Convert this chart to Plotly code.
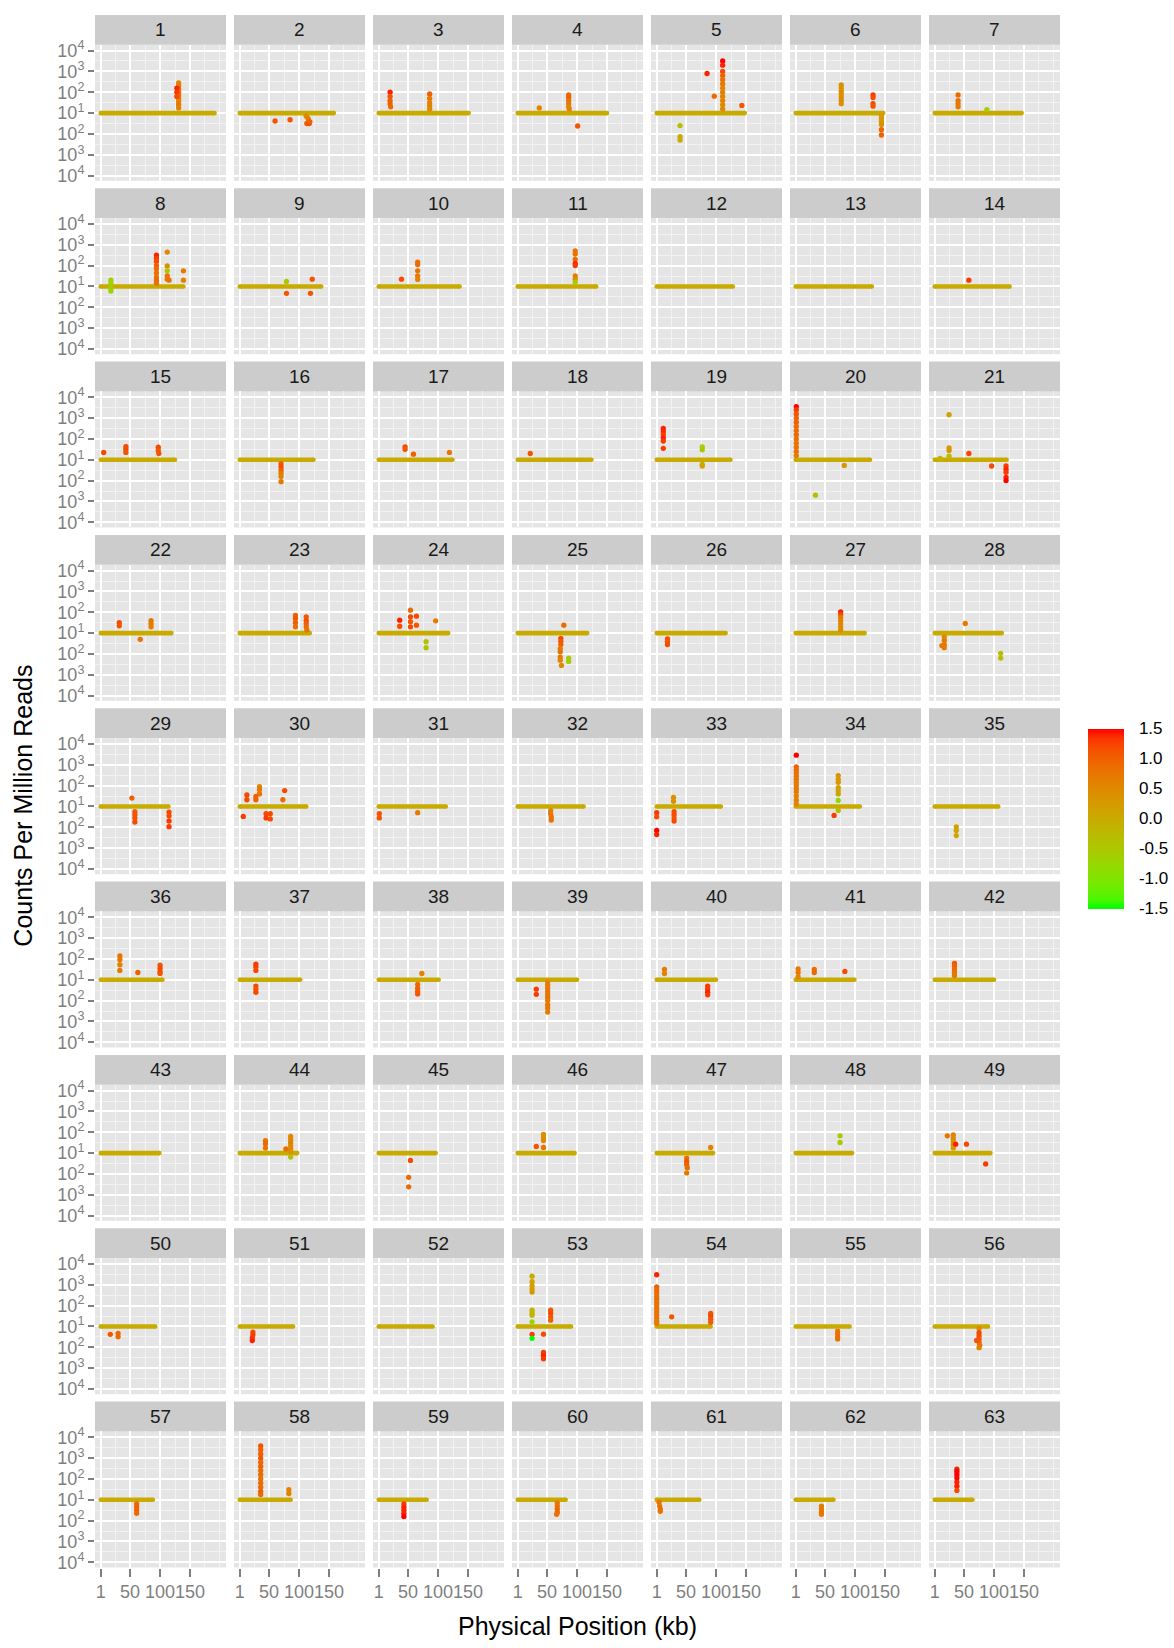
import plotly.graph_objects as go

# ---------------- data ----------------
chrom_ids = list(range(1, 64))
chrom_len_kb = [191, 158, 151, 150, 148, 147, 146,
                139, 137, 136, 132, 128, 128, 126,
                125, 124, 124, 124, 124, 125, 121,
                119, 118, 117, 117, 116, 116, 113,
                114, 112, 113, 111, 108, 108, 107,
                104, 102, 101, 100, 100, 99, 100,
                99, 97, 96, 96, 95, 95, 94,
                92, 90, 91, 90, 91, 91, 90,
                88, 86, 81, 81, 72, 64, 64]

# per-chromosome point positions (kb)
point_pos = [
    [131]*9 + [128]*3,                                   # 1
    [60, 85, 112, 115, 116, 113, 117, 118],              # 2
    [20, 20, 20, 20, 21, 86, 86, 86, 86, 86],            # 3
    [37, 86, 86, 86, 86, 86, 87, 101],                   # 4
    [85, 97] + [111]*12 + [143, 40, 40, 40],             # 5
    [77]*7 + [130]*4 + [144]*6,                          # 6
    [40, 40, 40, 40, 88],                                # 7
    [18]*4 + [94]*9 + [112]*5 + [115, 139, 139],         # 8
    [79, 79, 122, 119],                                  # 9
    [39, 66, 66, 66, 66, 66],                            # 10
    [97]*8,                                              # 11
    [],                                                  # 12
    [],                                                  # 13
    [58],                                                # 14
    [6, 43, 43, 43, 97, 97, 98],                         # 15
    [70]*6,                                              # 16
    [45, 45, 59, 119],                                   # 17
    [22],                                                # 18
    [12]*6 + [77]*4,                                     # 19
    [2]*13 + [82, 34],                                   # 20
    [25, 25, 25, 25, 10, 58, 96, 120, 120, 120, 120, 120],  # 21
    [32, 32, 85, 85, 85, 67],                            # 22
    [94, 94, 94, 94, 112, 112, 112, 112, 113],           # 23
    [36, 36, 54, 54, 54, 54, 64, 64, 96, 80, 80],        # 24
    [78, 73, 73, 73, 72, 72, 72, 72, 74, 86, 86],        # 25
    [19, 19, 19],                                        # 26
    [76]*7,                                              # 27
    [52, 17, 17, 17, 17, 13, 111, 111],                  # 28
    [53, 58, 58, 58, 58, 115, 115, 115, 115],            # 29
    [13, 13, 28, 28, 34, 34, 34, 76, 73, 7, 45, 45, 52, 52],  # 30
    [2, 2, 66],                                          # 31
    [56, 56, 57, 57],                                    # 32
    [29, 29, 30, 30, 30, 30, 1, 1, 1, 1],                # 33
    [2]*13 + [72]*8 + [65],                              # 34
    [37, 37, 37],                                        # 35
    [33, 33, 33, 33, 63, 100, 100, 100, 100],            # 36
    [28]*6,                                              # 37
    [73, 66, 66, 66, 66],                                # 38
    [51]*10 + [32, 32],                                  # 39
    [14, 14, 86, 86, 86, 86],                            # 40
    [5, 5, 5, 32, 32, 83],                               # 41
    [34]*5,                                              # 42
    [],                                                  # 43
    [44, 44, 44, 86, 86, 86, 86, 86, 86, 78, 86],        # 44
    [54, 51, 51],                                        # 45
    [44, 44, 44, 44, 32],                                # 46
    [91, 51, 51, 51, 52, 51],                            # 47
    [75, 75],                                            # 48
    [22, 32, 32, 32, 32, 32, 36, 54, 86],                # 49
    [17, 30, 30],                                        # 50
    [23, 23, 22, 22],                                    # 51
    [],                                                  # 52
    [25]*11 + [56]*4 + [44]*4,                           # 53
    [1]*14 + [26] + [91]*4,                              # 54
    [71]*4,                                              # 55
    [75, 75, 75, 75, 75, 76, 75, 71],                    # 56
    [61]*4,                                              # 57
    [36]*13 + [83, 83],                                  # 58
    [43]*5,                                              # 59
    [67, 67, 67, 67, 66],                                # 60
    [5, 6, 7, 7],                                        # 61
    [44]*4,                                              # 62
    [38]*7,                                              # 63
]

# signed log10 counts (0 = baseline)
point_logcpm = [
    [1.45, 1.3, 1.15, 1.0, 0.85, 0.7, 0.55, 0.4, 0.25, 1.2, 1.0, 0.8],
    [-0.38, -0.32, -0.15, -0.25, -0.35, -0.5, -0.5, -0.42],
    [1.0, 0.8, 0.6, 0.45, 0.3, 0.92, 0.7, 0.5, 0.35, 0.2],
    [0.25, 0.87, 0.75, 0.6, 0.45, 0.3, 0.2, -0.62],
    [1.9, 0.81, 2.5, 2.3, 2.0, 1.8, 1.6, 1.4, 1.2, 1.0, 0.8, 0.6, 0.4, 0.2, 0.37, -0.6, -1.13, -1.29],
    [1.35, 1.2, 1.05, 0.9, 0.75, 0.6, 0.45, 0.87, 0.75, 0.45, 0.33, -0.1, -0.25, -0.4, -0.55, -0.8, -1.05],
    [0.87, 0.6, 0.45, 0.3, 0.17],
    [0.3, 0.15, -0.1, -0.22, 1.5, 1.35, 1.2, 1.0, 0.85, 0.65, 0.45, 0.3, 0.15, 1.65, 0.98, 0.75, 0.5, 0.35, 0.3, 0.75, 0.3],
    [0.24, -0.33, 0.35, -0.33],
    [0.35, 1.17, 1.05, 0.75, 0.5, 0.33],
    [1.7, 1.55, 1.3, 1.1, 1.0, 0.5, 0.35, 0.2],
    [],
    [],
    [0.3],
    [0.35, 0.63, 0.5, 0.35, 0.6, 0.45, 0.3],
    [-0.2, -0.35, -0.5, -0.65, -0.8, -1.05],
    [0.62, 0.5, 0.27, 0.35],
    [0.3],
    [1.5, 1.35, 1.2, 1.05, 0.9, 0.55, 0.62, 0.48, -0.22, -0.3],
    [2.55, 2.4, 2.2, 2.0, 1.8, 1.6, 1.4, 1.2, 1.0, 0.8, 0.6, 0.4, 0.2, -0.27, -1.7],
    [2.16, 0.57, 0.44, 0.17, 0.06, 0.3, -0.3, -0.3, -0.45, -0.6, -0.85, -1.0],
    [0.5, 0.35, 0.6, 0.45, 0.3, -0.3],
    [0.85, 0.7, 0.5, 0.3, 0.78, 0.6, 0.45, 0.3, 0.15],
    [0.62, 0.33, 1.1, 0.78, 0.55, 0.3, 0.81, 0.38, 0.59, -0.41, -0.7],
    [0.38, -0.25, -0.4, -0.55, -0.75, -0.9, -1.15, -1.3, -1.55, -1.2, -1.36],
    [-0.28, -0.4, -0.55],
    [1.02, 0.88, 0.75, 0.6, 0.45, 0.3, 0.15],
    [0.46, -0.18, -0.35, -0.55, -0.7, -0.6, -0.97, -1.2],
    [0.4, -0.25, -0.4, -0.55, -0.75, -0.27, -0.45, -0.7, -0.97],
    [0.55, 0.32, 0.48, 0.32, 0.95, 0.8, 0.6, 0.76, 0.32, -0.48, -0.35, -0.55, -0.35, -0.6],
    [-0.35, -0.55, -0.3],
    [-0.2, -0.35, -0.5, -0.65],
    [0.43, 0.25, -0.25, -0.4, -0.55, -0.7, -0.3, -0.5, -1.15, -1.35],
    [2.46, 1.9, 1.75, 1.6, 1.45, 1.3, 1.15, 1.0, 0.85, 0.7, 0.5, 0.3, 0.12, 1.48, 1.3, 1.16, 0.9, 0.75, 0.6, 0.29, -0.19, -0.43],
    [-0.98, -1.15, -1.4],
    [1.14, 0.97, 0.72, 0.45, 0.35, 0.7, 0.55, 0.4, 0.3],
    [0.75, 0.62, 0.45, -0.3, -0.45, -0.6],
    [0.3, -0.22, -0.4, -0.55, -0.68],
    [-0.1, -0.25, -0.4, -0.55, -0.7, -0.85, -1.0, -1.2, -1.35, -1.55, -0.45, -0.7],
    [0.5, 0.3, -0.3, -0.45, -0.6, -0.72],
    [0.52, 0.35, 0.15, 0.5, 0.35, 0.4],
    [0.78, 0.65, 0.5, 0.35, 0.2],
    [],
    [0.6, 0.45, 0.25, 0.8, 0.65, 0.5, 0.35, 0.2, 0.08, 0.2, -0.19],
    [-0.35, -1.16, -1.62],
    [0.9, 0.75, 0.6, 0.27, 0.32],
    [0.27, -0.24, -0.4, -0.55, -0.7, -0.95],
    [0.83, 0.51],
    [0.83, 0.87, 0.7, 0.55, 0.4, 0.25, 0.43, 0.43, -0.52],
    [-0.38, -0.33, -0.49],
    [-0.27, -0.4, -0.55, -0.68],
    [],
    [2.41, 2.15, 1.95, 1.8, 1.65, 0.78, 0.65, 0.54, 0.22, -0.38, -0.57, 0.78, 0.62, 0.45, 0.3, -0.37, -1.25, -1.4, -1.55],
    [2.48, 1.9, 1.75, 1.6, 1.45, 1.3, 1.15, 1.0, 0.85, 0.7, 0.55, 0.4, 0.25, 0.14, 0.46, 0.62, 0.5, 0.35, 0.2],
    [-0.22, -0.35, -0.5, -0.6],
    [-0.1, -0.3, -0.45, -0.6, -0.75, -0.9, -1.02, -0.67],
    [-0.2, -0.35, -0.5, -0.65],
    [2.58, 2.4, 2.2, 2.0, 1.8, 1.6, 1.4, 1.2, 1.0, 0.8, 0.6, 0.4, 0.25, 0.48, 0.3],
    [-0.2, -0.35, -0.5, -0.65, -0.8],
    [-0.15, -0.3, -0.45, -0.6, -0.7],
    [-0.12, -0.3, -0.45, -0.55],
    [-0.3, -0.45, -0.6, -0.7],
    [1.47, 1.35, 1.2, 1.05, 0.85, 0.65, 0.45],
]

# colour value (log fold change)
point_fc = [
    [0.6, 0.7, 0.8, 0.7, 0.8, 0.7, 0.6, 0.7, 0.6, 1.4, 1.3, 1.2],
    [1.1, 1.1, 0.5, 0.6, 0.7, 1.0, 1.2, 1.0],
    [1.4, 1.1, 1.0, 1.0, 0.9, 1.0, 0.7, 0.6, 0.6, 0.5],
    [0.6, 0.9, 1.0, 0.8, 0.7, 0.6, 0.6, 1.1],
    [1.4, 0.9, 1.5, 1.4, 1.2, 1.0, 0.8, 0.7, 0.6, 0.6, 0.6, 0.6, 0.5, 0.5, 1.1, -0.3, 0.0, 0.0],
    [0.4, 0.4, 0.45, 0.4, 0.4, 0.45, 0.4, 1.3, 1.2, 1.2, 1.1, 0.3, 0.3, 0.3, 0.4, 0.9, 1.0],
    [0.9, 0.8, 0.7, 0.7, -0.6],
    [-0.7, -0.6, -0.6, -0.7, 1.4, 1.3, 1.2, 1.0, 0.9, 0.8, 0.8, 0.9, 0.8, 0.5, 0.4, -0.4, 0.8, 0.7, 0.8, 0.7, 0.6],
    [-0.5, 1.1, 1.1, 1.1],
    [1.2, 0.9, 0.9, 0.8, 0.7, 0.6],
    [0.8, 0.8, 0.9, 1.4, 1.3, 0.6, 0.5, -0.5],
    [],
    [],
    [1.3],
    [1.2, 1.2, 1.2, 1.1, 1.2, 1.1, 1.1],
    [1.1, 1.2, 1.0, 0.7, 0.6, 0.7],
    [1.2, 1.1, 1.0, 0.7],
    [1.1],
    [1.4, 1.4, 1.3, 1.4, 1.3, 1.3, -0.6, -0.5, 0.0, 0.1],
    [1.5, 1.3, 1.1, 1.0, 1.0, 0.9, 0.9, 0.9, 0.8, 0.8, 0.8, 0.8, 0.7, 0.3, -0.3],
    [0.1, 0.3, 0.3, -0.3, -0.2, 1.2, 1.2, 1.3, 1.4, 1.3, 1.4, 1.5],
    [1.2, 1.1, 0.7, 0.7, 0.6, 0.8],
    [1.0, 1.1, 1.0, 0.9, 1.1, 1.2, 1.0, 0.9, 0.8],
    [1.4, 1.2, 0.9, 1.2, 1.1, 1.2, 1.2, 1.1, 0.7, -0.4, -0.4],
    [0.9, 1.2, 1.1, 1.0, 0.7, 0.8, 0.7, 0.6, 0.5, -0.6, -0.6],
    [1.2, 1.1, 1.2],
    [1.4, 1.2, 0.7, 0.6, 0.5, 0.5, 0.5],
    [0.7, 0.5, 0.7, 0.8, 0.7, 0.7, -0.3, -0.3],
    [1.0, 1.0, 1.1, 1.1, 1.2, 1.2, 1.2, 1.3, 1.3],
    [1.2, 1.2, 1.0, 1.0, 0.6, 0.7, 0.8, 1.2, 0.9, 1.3, 1.2, 1.3, 1.2, 1.2],
    [1.1, 1.1, 0.7],
    [0.6, 0.7, 0.8, 0.8],
    [0.4, 0.4, 1.2, 1.2, 1.1, 1.2, 1.3, 1.2, 1.5, 1.4],
    [1.5, 1.0, 0.9, 0.8, 0.8, 0.8, 0.7, 0.7, 0.7, 0.7, 0.6, 0.6, 0.6, 0.4, 0.3, 0.3, 0.2, 0.1, 0.1, -0.8, -0.3, 1.3],
    [0.2, 0.1, 0.1],
    [0.8, 0.7, 0.6, 0.7, 1.0, 1.1, 1.2, 1.2, 1.1],
    [1.3, 1.3, 1.2, 1.2, 1.1, 1.2],
    [0.6, 0.9, 1.0, 1.0, 1.1],
    [0.6, 0.7, 0.7, 0.8, 0.7, 0.8, 0.7, 0.8, 0.7, 0.7, 1.3, 1.3],
    [0.7, 0.6, 1.3, 1.3, 1.4, 1.3],
    [0.7, 0.7, 0.6, 0.9, 0.9, 1.2],
    [1.1, 1.0, 0.9, 0.8, 0.7],
    [],
    [0.8, 0.9, 0.8, 0.5, 0.5, 0.6, 0.5, 0.5, 0.4, 0.8, -0.4],
    [1.2, 0.9, 0.9],
    [0.4, 0.4, 0.5, 0.8, 1.1],
    [0.6, 0.9, 1.1, 1.0, 0.9, 0.7],
    [-0.5, -0.5],
    [0.8, 0.6, 0.5, 0.4, 0.5, 0.3, 1.4, 1.2, 1.3],
    [1.1, 0.9, 0.9],
    [1.2, 1.3, 1.3, 1.4],
    [],
    [0.0, 0.1, 0.2, 0.2, 0.3, -0.1, -0.2, -0.1, -0.7, 1.3, -1.5, 1.1, 1.2, 1.1, 1.0, 1.2, 1.3, 1.4, 1.3],
    [1.4, 1.0, 0.9, 0.9, 0.8, 0.9, 0.8, 0.8, 0.8, 0.8, 0.8, 0.8, 0.7, 0.7, 1.1, 1.1, 1.2, 1.1, 1.0],
    [0.7, 0.8, 0.9, 0.8],
    [0.5, 1.2, 1.2, 1.1, 1.0, 0.8, 0.6, 1.1],
    [0.9, 1.0, 1.0, 0.9],
    [1.1, 1.0, 1.0, 1.1, 0.9, 1.0, 0.9, 0.9, 0.8, 0.9, 0.9, 1.0, 0.9, 0.6, 0.6],
    [1.3, 1.4, 1.4, 1.4, 1.5],
    [0.7, 0.8, 0.9, 0.9, 0.8],
    [0.8, 0.8, 0.9, 0.8],
    [0.7, 0.7, 0.8, 0.7],
    [1.4, 1.5, 1.5, 1.5, 1.4, 1.4, 1.2],
]

x_tick_vals = [1, 50, 100, 150]
x_tick_text = ["1", "50", "100", "150"]
y_tick_vals = [3, 2, 1, 0, -1, -2, -3]
y_tick_text = ["10<sup>4</sup>", "10<sup>3</sup>", "10<sup>2</sup>", "10<sup>1</sup>",
               "10<sup>2</sup>", "10<sup>3</sup>", "10<sup>4</sup>"]
cbar_vals = [1.5, 1.0, 0.5, 0.0, -0.5, -1.0, -1.5]
cbar_text = ["1.5", "1.0", "0.5", "0.0", "-0.5", "-1.0", "-1.5"]

# ---------------- colour scale (Lab interpolation green -> red) ----------------
def _lin(c):
    c = c / 255.0
    return c / 12.92 if c <= 0.04045 else ((c + 0.055) / 1.055) ** 2.4

def _gam(c):
    c = 12.92 * c if c <= 0.0031308 else 1.055 * max(c, 0) ** (1 / 2.4) - 0.055
    return int(round(min(1, max(0, c)) * 255))

WX, WY, WZ = 0.95047, 1.0, 1.08883

def rgb2lab(rgb):
    r, g, b = [_lin(v) for v in rgb]
    X = 0.4124 * r + 0.3576 * g + 0.1805 * b
    Y = 0.2126 * r + 0.7152 * g + 0.0722 * b
    Z = 0.0193 * r + 0.1192 * g + 0.9505 * b
    f = lambda t: t ** (1 / 3) if t > 0.008856 else 7.787 * t + 16 / 116
    fx, fy, fz = f(X / WX), f(Y / WY), f(Z / WZ)
    return (116 * fy - 16, 500 * (fx - fy), 200 * (fy - fz))

def lab2rgb(lab):
    L, a, b = lab
    fy = (L + 16) / 116
    fx = fy + a / 500
    fz = fy - b / 200
    finv = lambda t: t ** 3 if t ** 3 > 0.008856 else (t - 16 / 116) / 7.787
    X, Y, Z = WX * finv(fx), WY * finv(fy), WZ * finv(fz)
    r = 3.2406 * X - 1.5372 * Y - 0.4986 * Z
    g = -0.9689 * X + 1.8758 * Y + 0.0415 * Z
    b_ = 0.0557 * X - 0.2040 * Y + 1.0570 * Z
    return "rgb(%d,%d,%d)" % (_gam(r), _gam(g), _gam(b_))

LOW, HIGH = rgb2lab((0, 255, 0)), rgb2lab((255, 0, 0))

def ramp(t):
    return lab2rgb(tuple(LOW[k] + (HIGH[k] - LOW[k]) * t for k in range(3)))

colorscale = [[k / 20, ramp(k / 20)] for k in range(21)]
FC_MIN, FC_MAX = -1.5, 1.5
baseline_color = ramp((0 - FC_MIN) / (FC_MAX - FC_MIN))

# ---------------- layout geometry ----------------
W, H = 1174, 1648
NCOL = 7
PANEL_L, COL_STEP, PANEL_W = 95, 139, 131
STRIP_T, ROW_STEP, STRIP_H, PANEL_H = 9, 174.5, 30, 137
FONT = "Liberation Sans, Arial, Helvetica, sans-serif"
GREY = "#7F7F7F"
CB_X, CB_W, CB_YC, CB_LEN = 1088, 36, 818, 180

fig = go.Figure()
layout = dict(
    width=W, height=H, margin=dict(l=0, r=0, t=0, b=0),
    paper_bgcolor="white", plot_bgcolor="#E5E5E5",
    showlegend=False, font=dict(family=FONT, size=16, color="black"),
)
shapes, annotations = [], []
nrows = (len(chrom_ids) + NCOL - 1) // NCOL

for i, cid in enumerate(chrom_ids):
    r, c = divmod(i, NCOL)
    s = "" if i == 0 else str(i + 1)
    x0 = PANEL_L + c * COL_STEP
    x1 = x0 + PANEL_W
    st = STRIP_T + r * ROW_STEP
    pt = st + STRIP_H
    pb = pt + PANEL_H
    bottom_row = (r == nrows - 1)
    layout["xaxis" + s] = dict(
        domain=[x0 / W, x1 / W], anchor="y" + s, range=[-8.5, 210],
        tickmode="array", tickvals=x_tick_vals, ticktext=x_tick_text,
        showticklabels=bottom_row, ticks="outside" if bottom_row else "",
        tickangle=0, ticklen=8, tickwidth=1.5, tickcolor=GREY,
        tickfont=dict(size=18, color=GREY, family=FONT),
        showgrid=True, gridcolor="white", gridwidth=1.6,
        minor=dict(tickmode="array", tickvals=[25.5, 75, 125, 174.5, 199],
                   showgrid=True, gridcolor="#F2F2F2", gridwidth=0.8, ticks=""),
        zeroline=False, showline=False, fixedrange=True,
    )
    layout["yaxis" + s] = dict(
        domain=[1 - pb / H, 1 - pt / H], anchor="x" + s, range=[-3.25, 3.28],
        tickmode="array", tickvals=y_tick_vals, ticktext=y_tick_text,
        showticklabels=(c == 0), ticks="outside" if c == 0 else "",
        ticklen=6, tickwidth=1.5, tickcolor=GREY,
        tickfont=dict(size=18, color=GREY, family=FONT),
        showgrid=True, gridcolor="white", gridwidth=1.6,
        minor=dict(tickmode="array", tickvals=[2.5, 1.5, 0.5, -0.5, -1.5, -2.5],
                   showgrid=True, gridcolor="#F2F2F2", gridwidth=0.8, ticks=""),
        zeroline=False, showline=False, fixedrange=True,
    )
    # strip
    shapes.append(dict(type="rect", xref="paper", yref="paper",
                       x0=x0 / W, x1=x1 / W, y0=1 - pt / H, y1=1 - st / H,
                       fillcolor="#CCCCCC", line=dict(width=0), layer="below"))
    annotations.append(dict(text=str(cid), xref="paper", yref="paper",
                            x=(x0 + x1) / 2 / W, y=1 - (st + pt) / 2 / H,
                            xanchor="center", yanchor="middle", showarrow=False,
                            font=dict(size=19, color="#1A1A1A", family=FONT)))
    # baseline across the chromosome
    fig.add_trace(go.Scatter(
        x=[1, chrom_len_kb[i]], y=[0, 0], mode="lines+markers",
        line=dict(color=baseline_color, width=4.6),
        marker=dict(size=4.6, color=baseline_color),
        xaxis="x" + s, yaxis="y" + s, hoverinfo="skip", showlegend=False))
    # points
    n = min(len(point_pos[i]), len(point_logcpm[i]), len(point_fc[i]))
    if n:
        fig.add_trace(go.Scatter(
            x=point_pos[i][:n], y=point_logcpm[i][:n], mode="markers",
            marker=dict(size=5.3, color=point_fc[i][:n], colorscale=colorscale,
                        cmin=FC_MIN, cmax=FC_MAX, line=dict(width=0)),
            xaxis="x" + s, yaxis="y" + s, showlegend=False))

# colour bar
fig.add_trace(go.Scatter(
    x=[None], y=[None], mode="markers", xaxis="x", yaxis="y", showlegend=False,
    marker=dict(color=[0], colorscale=colorscale, cmin=FC_MIN, cmax=FC_MAX, showscale=True,
                colorbar=dict(x=CB_X / W, xanchor="left", y=1 - CB_YC / H, yanchor="middle",
                              lenmode="pixels", len=CB_LEN, thickness=CB_W,
                              xpad=0, ypad=0, outlinewidth=0,
                              tickmode="array", tickvals=cbar_vals, ticktext=cbar_text,
                              ticks="outside", ticklen=12, tickcolor="white", tickwidth=1,
                              tickfont=dict(size=17, color="black", family=FONT)))))

# white tick marks drawn inside the colour bar (ggplot style)
for v in cbar_vals[1:-1]:
    yp = CB_YC - (v - (FC_MIN + FC_MAX) / 2) / (FC_MAX - FC_MIN) * CB_LEN
    for xa, xb in ((CB_X, CB_X + 7), (CB_X + CB_W - 7, CB_X + CB_W)):
        shapes.append(dict(type="line", xref="paper", yref="paper",
                           x0=xa / W, x1=xb / W, y0=1 - yp / H, y1=1 - yp / H,
                           line=dict(color="white", width=1.2), layer="above"))

# axis titles
annotations.append(dict(text="Physical Position (kb)", xref="paper", yref="paper",
                        x=577 / W, y=1 - 1631 / H, xanchor="center", yanchor="middle",
                        showarrow=False, font=dict(size=25, color="black", family=FONT)))
annotations.append(dict(text="Counts Per Million Reads", xref="paper", yref="paper",
                        x=23 / W, y=1 - 805 / H, xanchor="center", yanchor="middle",
                        textangle=-90, showarrow=False,
                        font=dict(size=25, color="black", family=FONT)))

layout["shapes"] = shapes
layout["annotations"] = annotations
fig.update_layout(**layout)
fig.write_html("out.html")
